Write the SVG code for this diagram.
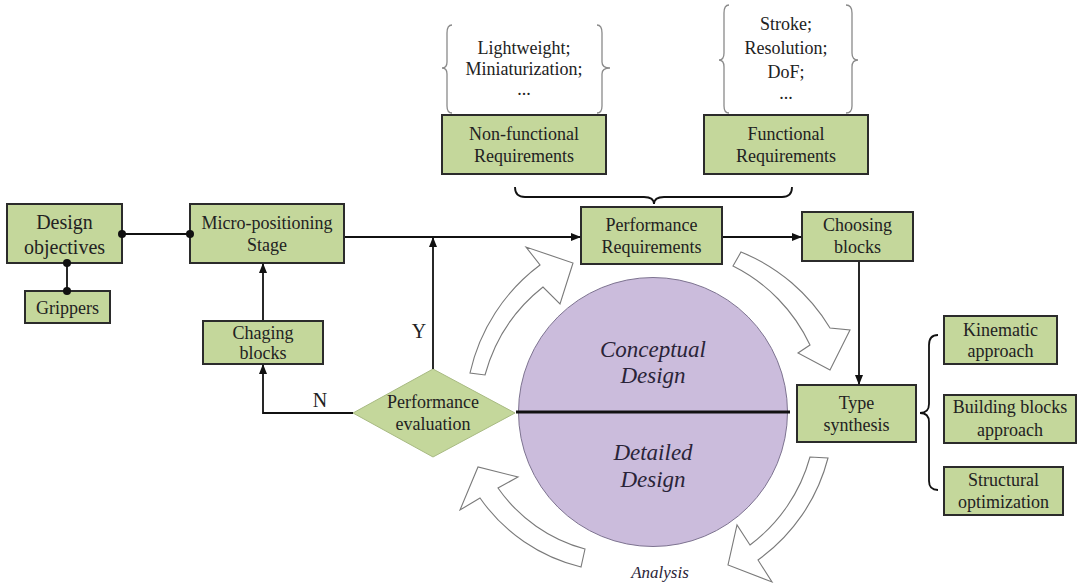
<svg xmlns="http://www.w3.org/2000/svg" width="1077" height="587" viewBox="0 0 1077 587">
<style>
.box{fill:#c4d79b;stroke:#2b2b2b;stroke-width:2}
.t{font-family:"Liberation Serif","Times New Roman",serif;font-size:18px;fill:#222;text-anchor:middle}
.big{font-size:20px}
.it{font-family:"Liberation Serif","Times New Roman",serif;font-style:italic;fill:#2a2438;text-anchor:middle}
.ln{fill:none;stroke:#111;stroke-width:1.8}
.br{fill:none;stroke:#8a8a8a;stroke-width:1.3}
.bk{fill:none;stroke:#111;stroke-width:1.8}
.ca{fill:#fff;stroke:#7a7a7a;stroke-width:1.1}
.dot{fill:#111}
</style>
<defs>
<marker id="ah" markerWidth="10" markerHeight="10" refX="9" refY="5" orient="auto" markerUnits="userSpaceOnUse">
<path d="M0,1 L10,5 L0,9 Z" fill="#111"/>
</marker>
</defs>
<rect width="1077" height="587" fill="#fff"/>

<!-- circle and curved arrows -->
<g id="cycle">
<circle cx="653" cy="412" r="134.5" fill="#cbbcdc" stroke="#7d7390" stroke-width="1"/>
<line x1="516" y1="412" x2="790" y2="412" stroke="#111" stroke-width="3"/>
<path class="ca" d="M470,373 A185,185 0 0 1 540,265 L526,247 L573,263 L560,304 L543,287 A168,168 0 0 0 485,375 Z"/>
<path class="ca" d="M741,252 A185,185 0 0 1 830,328 L850,330 L830,370 L798,353 L810,345 A168,168 0 0 0 733,266 Z"/>
<path class="ca" d="M828,458 A181,181 0 0 1 758,560 L772,582 L728,565 L737,525 L750,545 A164,164 0 0 0 810,457 Z"/>
<path class="ca" d="M581,567 A172,172 0 0 1 480,498 L460,510 L478,467 L518,477 L498,488 A155,155 0 0 0 585,549 Z"/>
<text class="it" x="653" y="357" font-size="23">Conceptual</text>
<text class="it" x="653" y="383" font-size="23">Design</text>
<text class="it" x="653" y="460" font-size="23">Detailed</text>
<text class="it" x="653" y="487" font-size="23">Design</text>
<text class="it" x="660" y="578" font-size="17">Analysis</text>
</g>

<g id="design-objectives">
<rect class="box" x="7" y="204" width="115" height="59"/>
<text class="t big" x="64.5" y="229">Design</text>
<text class="t big" x="64.5" y="254">objectives</text>
</g>
<g id="grippers">
<rect class="box" x="25" y="291" width="85" height="32"/>
<text class="t" x="67.5" y="314">Grippers</text>
</g>
<g id="micro-positioning">
<rect class="box" x="190" y="204" width="154" height="59"/>
<text class="t" x="267" y="229">Micro-positioning</text>
<text class="t" x="267" y="251">Stage</text>
</g>
<g id="chaging-blocks">
<rect class="box" x="203" y="321" width="120" height="43"/>
<text class="t" x="263" y="339">Chaging</text>
<text class="t" x="263" y="359">blocks</text>
</g>
<g id="performance-evaluation">
<polygon points="353,413 433,369 515,413 433,457" fill="#c4d79b" stroke="#a8ba82" stroke-width="1"/>
<text class="t" x="433" y="408">Performance</text>
<text class="t" x="433" y="430">evaluation</text>
</g>
<g id="performance-requirements">
<rect class="box" x="581" y="207" width="141" height="57"/>
<text class="t" x="651.5" y="231">Performance</text>
<text class="t" x="651.5" y="253">Requirements</text>
</g>
<g id="choosing-blocks">
<rect class="box" x="802" y="212" width="111" height="49"/>
<text class="t" x="857.5" y="231">Choosing</text>
<text class="t" x="857.5" y="253">blocks</text>
</g>
<g id="non-functional">
<path class="br" d="M452,25 Q447,25 447,33 L447,62 Q447,68 442,68 Q447,68 447,74 L447,106 Q447,113 452,113"/>
<path class="br" d="M597,25 Q602,25 602,33 L602,62 Q602,68 610,68 Q602,68 602,74 L602,106 Q602,113 597,113"/>
<text class="t" x="524" y="54" font-size="19">Lightweight;</text>
<text class="t" x="524" y="75" font-size="19">Miniaturization;</text>
<text class="t" x="524" y="95" font-size="19">...</text>
<rect class="box" x="442" y="115" width="164" height="59"/>
<text class="t" x="524" y="140">Non-functional</text>
<text class="t" x="524" y="162">Requirements</text>
</g>
<g id="functional">
<path class="br" d="M729,5 Q724,5 724,13 L724,53 Q724,60 719,60 Q724,60 724,67 L724,106 Q724,113 729,113"/>
<path class="br" d="M846,5 Q852,5 852,13 L852,53 Q852,60 858,60 Q852,60 852,67 L852,106 Q852,113 846,113"/>
<text class="t" x="786" y="30" font-size="19">Stroke;</text>
<text class="t" x="786" y="54" font-size="19">Resolution;</text>
<text class="t" x="786" y="78" font-size="19">DoF;</text>
<text class="t" x="786" y="99" font-size="19">...</text>
<rect class="box" x="704" y="115" width="164" height="59"/>
<text class="t" x="786" y="140">Functional</text>
<text class="t" x="786" y="162">Requirements</text>
</g>
<g id="type-synthesis">
<rect class="box" x="797" y="385" width="119" height="57"/>
<text class="t" x="856.5" y="409">Type</text>
<text class="t" x="856.5" y="431">synthesis</text>
</g>
<g id="kinematic">
<rect class="box" x="944" y="316" width="113" height="48"/>
<text class="t" x="1000.5" y="336">Kinematic</text>
<text class="t" x="1000.5" y="357">approach</text>
</g>
<g id="building-blocks">
<rect class="box" x="944" y="395" width="132" height="48"/>
<text class="t" x="1010" y="413">Building blocks</text>
<text class="t" x="1010" y="436">approach</text>
</g>
<g id="structural">
<rect class="box" x="944" y="467" width="119" height="48"/>
<text class="t" x="1003.5" y="486">Structural</text>
<text class="t" x="1003.5" y="508">optimization</text>
</g>

<!-- connectors -->
<g id="connectors">
<line class="ln" x1="122" y1="234" x2="190" y2="234"/>
<circle class="dot" cx="122" cy="234" r="4"/>
<circle class="dot" cx="190" cy="234" r="4"/>
<line class="ln" x1="67" y1="263" x2="67" y2="291"/>
<circle class="dot" cx="67" cy="263" r="4"/>
<circle class="dot" cx="67" cy="291" r="4"/>
<line class="ln" x1="345" y1="237" x2="580" y2="237" marker-end="url(#ah)"/>
<line class="ln" x1="433" y1="369" x2="433" y2="238" marker-end="url(#ah)"/>
<line class="ln" x1="723" y1="237" x2="801" y2="237" marker-end="url(#ah)"/>
<line class="ln" x1="859" y1="262" x2="859" y2="384" marker-end="url(#ah)"/>
<polyline class="ln" points="353,413 263,413 263,365" marker-end="url(#ah)"/>
<line class="ln" x1="263" y1="320" x2="263" y2="264" marker-end="url(#ah)"/>
<path class="bk" d="M515,187 Q515,197 525,197 L644,197 Q654,197 654,204 Q654,197 664,197 L782,197 Q792,197 792,187"/>
<path class="bk" d="M938,335 Q929,335 929,345 L929,404 Q929,413 920,413 Q929,413 929,422 L929,481 Q929,490 938,490"/>
<text class="t big" x="419" y="338">Y</text>
<text class="t big" x="320" y="407">N</text>
</g>
</svg>
